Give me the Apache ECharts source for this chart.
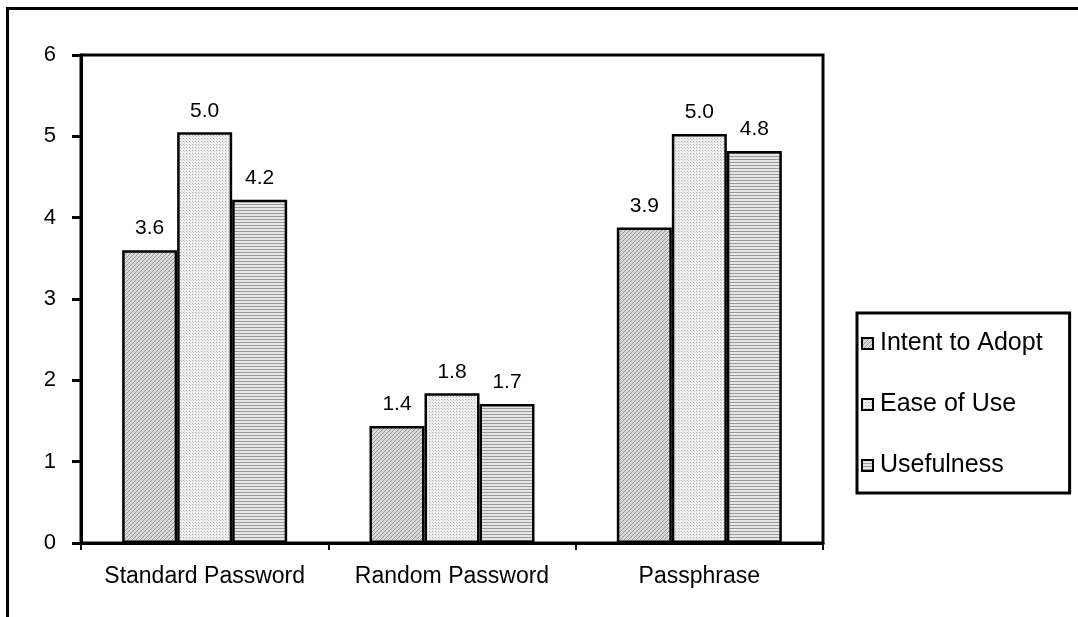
<!DOCTYPE html>
<html><head><meta charset="utf-8">
<script src="https://cdn.jsdelivr.net/npm/echarts@6/dist/echarts.min.js"></script>
<style>html,body{margin:0;padding:0;background:#fff}#c{width:1078px;height:617px}</style>
</head><body><div id="c"></div>
<script>
const categories = ['Standard Password', 'Random Password', 'Passphrase'];
const intentToAdopt = [3.6, 1.44, 3.88];
const easeOfUse = [5.05, 1.84, 5.03];
const usefulness = [4.22, 1.71, 4.82];
const yTicks = [0, 1, 2, 3, 4, 5, 6];

function pattern(kind) {
  const c = document.createElement('canvas');
  const ctx = c.getContext('2d');
  if (kind === 'diag') {
    c.width = 4; c.height = 4;
    ctx.fillStyle = '#d8d8d8'; ctx.fillRect(0, 0, 4, 4);
    ctx.fillStyle = '#989898';
    for (let i = 0; i < 4; i++) { ctx.fillRect(i, 3 - i, 1, 1); }
  } else if (kind === 'dots') {
    c.width = 3; c.height = 3;
    ctx.fillStyle = '#eeeeee'; ctx.fillRect(0, 0, 3, 3);
    ctx.fillStyle = '#b4b4b4'; ctx.fillRect(0, 0, 1, 1);
    ctx.fillStyle = '#d0d0d0'; ctx.fillRect(1, 1, 1, 1);
  } else {
    c.width = 2; c.height = 3;
    ctx.fillStyle = '#e6e6e6'; ctx.fillRect(0, 0, 2, 3);
    ctx.fillStyle = '#9a9a9a'; ctx.fillRect(0, 0, 2, 1);
  }
  return { image: c, repeat: 'repeat' };
}

const font = 'Liberation Sans, Arial, sans-serif';
const labelCfg = {
  show: true, position: 'top', distance: 11, color: '#000',
  fontFamily: font, fontSize: 21, formatter: p => p.value.toFixed(1)
};
function mk(name, data, kind) {
  return {
    name, type: 'bar', data, barWidth: 55, barGap: '0%',
    itemStyle: { color: pattern(kind), borderColor: '#000', borderWidth: 2.5 },
    label: labelCfg
  };
}

const chart = echarts.init(document.getElementById('c'));
chart.setOption({
  animation: false,
  backgroundColor: '#fff',
  graphic: [{
    type: 'rect', left: 5, top: 6, shape: { width: 1200, height: 800 },
    style: { fill: 'none', stroke: '#000', lineWidth: 3 }, silent: true
  }],
  grid: { left: 81, top: 55, right: 255, bottom: 74, show: true, borderColor: '#000', borderWidth: 3, backgroundColor: 'transparent' },
  legend: {
    orient: 'vertical', left: 857, top: 313,
    padding: [18, 27, 15, 4], itemGap: 36,
    itemWidth: 11, itemHeight: 11, icon: 'rect',
    borderColor: '#000', borderWidth: 3,
    textStyle: { fontFamily: font, fontSize: 25, color: '#000', padding: [0, 0, 0, 2] },
    data: ['Intent to Adopt', 'Ease of Use', 'Usefulness']
  },
  xAxis: {
    type: 'category', data: categories,
    axisLine: { lineStyle: { color: '#000', width: 3 } },
    axisTick: { show: true, length: 7, lineStyle: { color: '#000', width: 2 } },
    axisLabel: { fontFamily: font, fontSize: 23, color: '#000', margin: 22, interval: 0, hideOverlap: false }
  },
  yAxis: {
    type: 'value', min: yTicks[0], max: yTicks[yTicks.length - 1], interval: 1,
    axisLine: { show: true, lineStyle: { color: '#000', width: 3 } },
    axisTick: { show: true, length: 9, lineStyle: { color: '#000', width: 3 } },
    splitLine: { show: false },
    axisLabel: { fontFamily: font, fontSize: 22, color: '#000', margin: 25 }
  },
  series: [
    mk('Intent to Adopt', intentToAdopt, 'diag'),
    mk('Ease of Use', easeOfUse, 'dots'),
    mk('Usefulness', usefulness, 'lines')
  ]
});
</script></body></html>
